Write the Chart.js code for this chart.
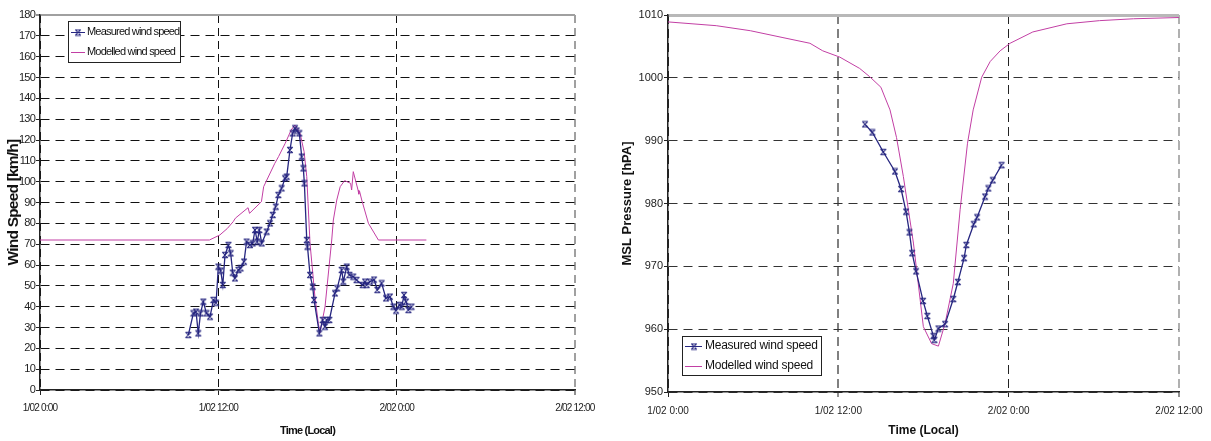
<!DOCTYPE html>
<html>
<head>
<meta charset="utf-8">
<script src="https://cdn.jsdelivr.net/npm/chart.js@4.4.1/dist/chart.umd.min.js"></script>
<style>
    html, body { margin: 0; padding: 0; background: #ffffff; }
    .panel { position: absolute; top: 0; }
    #windPanel { left: 0; }
    #pressurePanel { left: 600px; }
</style>
</head>
<body>
<div class="panel" id="windPanel"><canvas id="windChart" width="600" height="441"></canvas></div>
<div class="panel" id="pressurePanel"><canvas id="pressureChart" width="611" height="441"></canvas></div>
<script>
// all times are hours after 1/02 0:00 (local)
const timeTicks = [0, 12, 24, 36];
const seriesNames = ["Measured wind speed", "Modelled wind speed"];

const windMeasuredHours = [
    9.98, 10.32, 10.5, 10.65, 10.8, 10.99, 11.2, 11.44, 11.67, 11.85,
    12.0, 12.16, 12.3, 12.45, 12.68, 12.83, 12.97, 13.12, 13.35, 13.5,
    13.73, 13.9, 14.13, 14.31, 14.47, 14.62, 14.76, 14.92, 15.25, 15.48,
    15.66, 15.86, 16.04, 16.26, 16.49, 16.6, 16.82, 17.0, 17.16, 17.27,
    17.45, 17.61, 17.72, 17.79, 17.95, 18.0, 18.17, 18.35, 18.44, 18.8,
    19.02, 19.18, 19.29, 19.47, 19.85, 20.0, 20.3, 20.41, 20.64, 20.82,
    21.08, 21.3, 21.71, 21.87, 21.98, 22.2, 22.48, 22.7, 22.99, 23.28,
    23.55, 23.78, 23.96, 24.19, 24.34, 24.5, 24.63, 24.79, 25.0
];
const windMeasured = [
    26.4, 36.8, 37.6, 27.2, 36.8, 42.4, 36.8, 35.2, 43.2, 41.9,
    59.2, 57.3, 50.4, 64.8, 69.6, 65.6, 56.3, 53.6, 57.6, 58.4,
    61.6, 71.2, 69.6, 70.4, 76.8, 71.2, 76.8, 70.4, 76.0, 80.0,
    84.0, 88.0, 93.6, 96.8, 101.6, 102.4, 115.2, 123.2, 125.6, 124.5,
    123.2, 112.0, 106.4, 99.2, 72.0, 68.8, 55.2, 49.6, 43.2, 27.2,
    33.6, 30.4, 33.6, 33.6, 46.4, 48.8, 57.6, 52.0, 59.2, 55.2,
    54.4, 52.8, 50.4, 52.0, 50.4, 52.0, 53.0, 48.0, 51.2, 44.0,
    44.8, 40.0, 38.1, 40.8, 40.0, 45.6, 42.4, 38.4, 40.0
];

const windModelledHours = [
    0, 11.4, 12.1, 12.6, 13.0, 13.15, 14.0, 14.1, 14.9, 15.05,
    15.8, 16.05, 16.5, 16.9, 17.15, 17.5, 17.77, 17.95, 18.17, 18.5,
    18.73, 18.84, 19.18, 19.63, 19.74, 19.97, 20.2, 20.5, 20.9, 20.97,
    21.08, 21.4, 21.45, 21.5, 21.65, 22.1, 22.77, 26.0
];
const windModelled = [
    72, 72, 74.4, 77.5, 80.8, 82.5, 87.5, 84.8, 90.4, 97.6,
    108.8, 112, 118.4, 124.8, 127.2, 123.2, 114.4, 102.4, 70.4, 44.8,
    32, 27.5, 40, 72, 81.6, 91.2, 97.6, 100.5, 99.2, 96,
    104.8, 96, 94, 95.5, 91.2, 80, 72, 72
];

const pressureMeasuredHours = [
    13.88, 14.4, 15.17, 15.99, 16.42, 16.77, 17.01, 17.2, 17.48, 17.97,
    18.27, 18.7, 18.77, 19.05, 19.52, 20.1, 20.42, 20.86, 21.02, 21.54,
    21.78, 22.34, 22.57, 22.88, 23.5
];
const pressureMeasured = [
    992.6, 991.3, 988.2, 985.1, 982.3, 978.7, 975.4, 972.1, 969.2, 964.5,
    962.1, 958.9, 958.3, 960.1, 960.8, 964.8, 967.5, 971.3, 973.4, 976.7,
    977.8, 981.1, 982.4, 983.7, 986.1
];

const pressureModelledHours = [
    0, 3.4, 5.8, 8.1, 10.0, 10.9, 12.1, 13.5, 14.2, 15.0,
    15.3, 15.64, 16.1, 16.58, 17.29, 17.99, 18.57, 19.05, 19.52, 20.1,
    20.58, 21.1, 21.5, 22.1, 22.7, 23.4, 24.1, 25.7, 28.1, 30.4,
    32.8, 36.0
];
const pressureModelled = [
    1008.9, 1008.3, 1007.5, 1006.4, 1005.5, 1004.3, 1003.3, 1001.5, 1000.2, 998.5,
    996.8, 994.9, 990.5, 984.3, 973.7, 960.4, 957.7, 957.3, 960.9, 967.3,
    979.0, 989.6, 994.9, 1000.1, 1002.6, 1004.3, 1005.5, 1007.3, 1008.6, 1009.1,
    1009.4, 1009.6
];

const sans = "'Liberation Sans', Arial, sans-serif";
const measuredColor = "#262680";
const modelledColor = "#c23fa4";

function toPoints(xs, ys) {
    return xs.map((x, i) => ({ x: x, y: ys[i] }));
}

function timeLabel(value) {
    const day = 1 + Math.floor(value / 24);
    return `${day}/02 ${value % 24}:00`;
}

// spreadsheet style marker: an x with a bar on top and bottom
function drawStar(ctx, x, y, r) {
    ctx.beginPath();
    ctx.moveTo(x - r, y - r);
    ctx.lineTo(x + r, y + r);
    ctx.moveTo(x - r, y + r);
    ctx.lineTo(x + r, y - r);
    ctx.moveTo(x - r, y - r);
    ctx.lineTo(x + r, y - r);
    ctx.moveTo(x - r, y + r);
    ctx.lineTo(x + r, y + r);
    ctx.stroke();
}

function makeMarker(color) {
    const canvas = document.createElement("canvas");
    canvas.width = 8;
    canvas.height = 8;
    const g = canvas.getContext("2d");
    g.strokeStyle = color;
    g.lineWidth = 1.1;
    drawStar(g, 4, 4, 2.8);
    return canvas;
}

const measuredMarker = makeMarker(measuredColor);

// the left chart's text is squeezed sideways in the original
const textSpacing = {
    id: "textSpacing",
    beforeUpdate(chart, args, opts) {
        chart.ctx.letterSpacing = opts.spacing || "0px";
    },
    beforeDraw(chart, args, opts) {
        chart.ctx.letterSpacing = opts.spacing || "0px";
    }
};

// legend drawn as a boxed key inside the plot, like the spreadsheet original
const boxLegend = {
    id: "boxLegend",
    afterDatasetsDraw(chart, args, opts) {
        const { ctx, chartArea } = chart;
        const x = Math.round(chartArea.left + opts.dx);
        const y = Math.round(opts.fromBottom ? chartArea.bottom - opts.dy : chartArea.top + opts.dy);

        ctx.save();
        ctx.fillStyle = "#ffffff";
        ctx.fillRect(x, y, opts.width, opts.height);
        ctx.strokeStyle = "#222222";
        ctx.lineWidth = 1;
        ctx.strokeRect(x + 0.5, y + 0.5, opts.width, opts.height);

        ctx.font = opts.font;
        ctx.letterSpacing = opts.spacing;
        ctx.textBaseline = "middle";
        chart.data.datasets.forEach((ds, i) => {
            const rowY = y + opts.firstRow + i * opts.rowGap;
            ctx.strokeStyle = ds.borderColor;
            ctx.lineWidth = 1;
            ctx.beginPath();
            ctx.moveTo(x + 3, rowY + 0.5);
            ctx.lineTo(x + 3 + opts.sample, rowY + 0.5);
            ctx.stroke();
            if (typeof ds.pointStyle === "object") {
                const px = Math.round(x + 3 + opts.sample / 2 - 4);
                ctx.drawImage(ds.pointStyle, px, rowY - 3.5);
            }
            ctx.fillStyle = "#111111";
            ctx.fillText(ds.label, x + opts.textX, rowY);
        });
        ctx.restore();
    }
};

function measuredDataset(points) {
    return {
        label: seriesNames[0],
        data: points,
        borderColor: measuredColor,
        borderWidth: 1.3,
        pointStyle: measuredMarker,
        pointRadius: 3
    };
}

function modelledDataset(points) {
    return {
        label: seriesNames[1],
        data: points,
        borderColor: modelledColor,
        borderWidth: 1,
        pointRadius: 0
    };
}

function fitTimeAxis(height) {
    return (scale) => {
        scale.height = height;
        scale.paddingLeft = 0;
        scale.paddingRight = 0;
    };
}

new Chart(document.getElementById("windChart"), {
    type: "line",
    data: {
        datasets: [
            measuredDataset(toPoints(windMeasuredHours, windMeasured)),
            modelledDataset(toPoints(windModelledHours, windModelled))
        ]
    },
    options: {
        responsive: false,
        animation: false,
        layout: { padding: { top: 15, right: 25, left: 0, bottom: 0 } },
        scales: {
            x: {
                type: "linear",
                min: timeTicks[0],
                max: timeTicks[timeTicks.length - 1],
                afterFit: fitTimeAxis(51),
                afterBuildTicks: (scale) => { scale.ticks = timeTicks.map((v) => ({ value: v })); },
                ticks: {
                    autoSkip: false,
                    maxRotation: 0,
                    padding: 7,
                    color: "#222",
                    font: { family: sans, size: 10 },
                    callback: (value) => timeLabel(value)
                },
                grid: {
                    color: (c) => c.tick && c.tick.value === 36 ? "#a0a0a0" : "#111111",
                    lineWidth: (c) => c.tick && c.tick.value === 36 ? 2 : 1,
                    tickLength: 5,
                    tickColor: "#222",
                    tickWidth: 1,
                    tickBorderDash: []
                },
                border: { color: "#222", width: 1.5, dash: [8, 5] },
                title: {
                    display: true,
                    text: "Time (Local)",
                    color: "#111",
                    font: { family: sans, size: 11, weight: "bold" },
                    padding: { top: 0, bottom: 3 }
                }
            },
            y: {
                min: 0,
                max: 180,
                afterFit: (scale) => { scale.width = 40; },
                ticks: {
                    stepSize: 10,
                    padding: 1,
                    color: "#222",
                    font: { family: sans, size: 11 }
                },
                grid: {
                    color: (c) => c.tick && c.tick.value === 180 ? "#a0a0a0" : "#111111",
                    lineWidth: (c) => c.tick && c.tick.value === 180 ? 2 : 1,
                    tickLength: 4,
                    tickColor: "#222",
                    tickWidth: 1,
                    tickBorderDash: []
                },
                border: {
                    color: "#222",
                    width: 1.5,
                    dash: (c) => c.tick && c.tick.value === 180 ? [] : [9, 6]
                },
                title: {
                    display: true,
                    text: "Wind Speed [km/h]",
                    color: "#111",
                    font: { family: sans, size: 15.5, weight: "bold" },
                    padding: { top: 4, bottom: 0 }
                }
            }
        },
        plugins: {
            legend: { display: false },
            tooltip: { enabled: false },
            textSpacing: { spacing: "-0.8px" },
            boxLegend: {
                dx: 28, dy: 6, fromBottom: false,
                width: 112, height: 41,
                firstRow: 11, rowGap: 20,
                sample: 14, textX: 19,
                font: `11px ${sans}`,
                spacing: "-0.8px"
            }
        }
    },
    plugins: [textSpacing, boxLegend]
});

new Chart(document.getElementById("pressureChart"), {
    type: "line",
    data: {
        datasets: [
            measuredDataset(toPoints(pressureMeasuredHours, pressureMeasured)),
            modelledDataset(toPoints(pressureModelledHours, pressureModelled))
        ]
    },
    options: {
        responsive: false,
        animation: false,
        layout: { padding: { top: 15, right: 32, left: 0, bottom: 0 } },
        scales: {
            x: {
                type: "linear",
                min: timeTicks[0],
                max: timeTicks[timeTicks.length - 1],
                afterFit: fitTimeAxis(49),
                afterBuildTicks: (scale) => { scale.ticks = timeTicks.map((v) => ({ value: v })); },
                ticks: {
                    autoSkip: false,
                    maxRotation: 0,
                    padding: 8,
                    color: "#222",
                    font: { family: sans, size: 10 },
                    callback: (value) => timeLabel(value)
                },
                grid: {
                    color: (c) => {
                        const v = c.tick ? c.tick.value : 0;
                        if (v === 36) return "#b0b0b0";
                        if (v === 12) return "#808080";
                        return "#222222";
                    },
                    lineWidth: (c) => c.tick && (c.tick.value === 36 || c.tick.value === 12) ? 2 : 1,
                    tickLength: 5,
                    tickColor: "#222",
                    tickWidth: 1,
                    tickBorderDash: []
                },
                border: { color: "#222", width: 1.5, dash: [9, 5] },
                title: {
                    display: true,
                    text: "Time (Local)",
                    color: "#111",
                    font: { family: sans, size: 12, weight: "bold" },
                    padding: { top: 0, bottom: 3 }
                }
            },
            y: {
                min: 950,
                max: 1010,
                afterFit: (scale) => { scale.width = 68; },
                ticks: {
                    stepSize: 10,
                    padding: 1,
                    color: "#222",
                    font: { family: sans, size: 11 },
                    callback: (value) => String(value)
                },
                grid: {
                    color: (c) => c.tick && c.tick.value === 1010 ? "#b8b8b8" : "#333333",
                    lineWidth: (c) => c.tick && c.tick.value === 1010 ? 3 : 1,
                    tickLength: 4,
                    tickColor: "#222",
                    tickWidth: 1,
                    tickBorderDash: []
                },
                border: {
                    color: "#222",
                    width: 1.5,
                    dash: (c) => c.tick && c.tick.value === 1010 ? [] : [9, 6]
                },
                title: {
                    display: true,
                    text: "MSL Pressure [hPA]",
                    color: "#111",
                    font: { family: sans, size: 13, weight: "bold" },
                    padding: { top: 20, bottom: 0 }
                }
            }
        },
        plugins: {
            legend: { display: false },
            tooltip: { enabled: false },
            textSpacing: { spacing: "0px" },
            boxLegend: {
                dx: 14, dy: 56, fromBottom: true,
                width: 139, height: 39,
                firstRow: 10, rowGap: 20,
                sample: 17, textX: 23,
                font: `12px ${sans}`,
                spacing: "-0.25px"
            }
        }
    },
    plugins: [textSpacing, boxLegend]
});
</script>
</body>
</html>
